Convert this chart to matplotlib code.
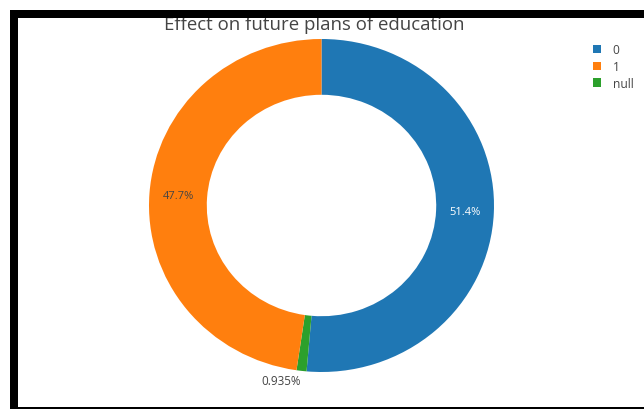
import matplotlib
matplotlib.use("Agg")
import matplotlib.pyplot as plt
from matplotlib.patches import Patch, Rectangle
import numpy as np

plt.rcParams['font.family'] = ['Open Sans', 'DejaVu Sans']

title = "Effect on future plans of education"
labels = ["0", "1", "null"]
values = [51.4, 47.7, 0.935]
pct_text = ["51.4%", "47.7%", "0.935%"]
colors = ["#1f77b4", "#ff7f0e", "#2ca02c"]
# drawing order clockwise from top: 0, null, 1
draw_order = [0, 2, 1]

W, H = 644, 410
fig = plt.figure(figsize=(W / 100, H / 100), dpi=100)
fig.patch.set_facecolor("white")

# pie geometry in pixels
cx, cy = 321.5, 206.5
rx, ry = 172.5, 166.5
hole = 0.665

ax = fig.add_axes([0, 0, 1, 1])
vals = [values[i] for i in draw_order]
cols = [colors[i] for i in draw_order]
wedges, _ = ax.pie(vals, colors=cols, startangle=90, counterclock=False,
                   radius=1, wedgeprops=dict(width=1 - hole, linewidth=0))
ax.set_aspect('auto')
ax.set_xlim(-cx / rx, (W - cx) / rx)
ax.set_ylim(-(H - cy) / ry, cy / ry)
ax.axis('off')

# labels
total = sum(vals)
start = 0.0
rmid = (1 + hole) / 2
for k, i in enumerate(draw_order):
    frac = vals[k] / total
    mid = (start + frac / 2) * 2 * np.pi
    start += frac
    sx, sy = np.sin(mid), np.cos(mid)
    if labels[i] == "null":
        ax.text(sx * 1.02, sy * 1.02, pct_text[i], ha='right', va='top',
                fontsize=8.4, color='#444444')
    else:
        ax.text(sx * rmid, sy * rmid, pct_text[i], ha='center', va='center',
                fontsize=8.0, color='white' if i == 0 else '#444444')

fig.text(314 / W, 1 - 29.5 / H, title, ha='center', va='baseline',
         fontsize=13.4, color='#444444')

handles = [Patch(facecolor=c, edgecolor='none') for c in colors]
fig.legend(handles, labels, loc='upper left',
           bbox_to_anchor=(592.7 / W, 1 - 44 / H), frameon=False,
           borderpad=0, borderaxespad=0, handlelength=0.67, handleheight=0.67,
           handletextpad=1.0, labelspacing=0.32, fontsize=8.6,
           labelcolor='#444444')

# black frame
def px_rect(x0, y0, x1, y1):
    fig.patches.append(Rectangle((x0 / W, 1 - y1 / H), (x1 - x0) / W, (y1 - y0) / H,
                                 transform=fig.transFigure, facecolor='black',
                                 edgecolor='none', zorder=10))

px_rect(10, 11, 644, 19)
px_rect(10, 11, 18, 410)
px_rect(10, 408, 644, 409.5)

fig.savefig("out.png", dpi=100, facecolor="white")
